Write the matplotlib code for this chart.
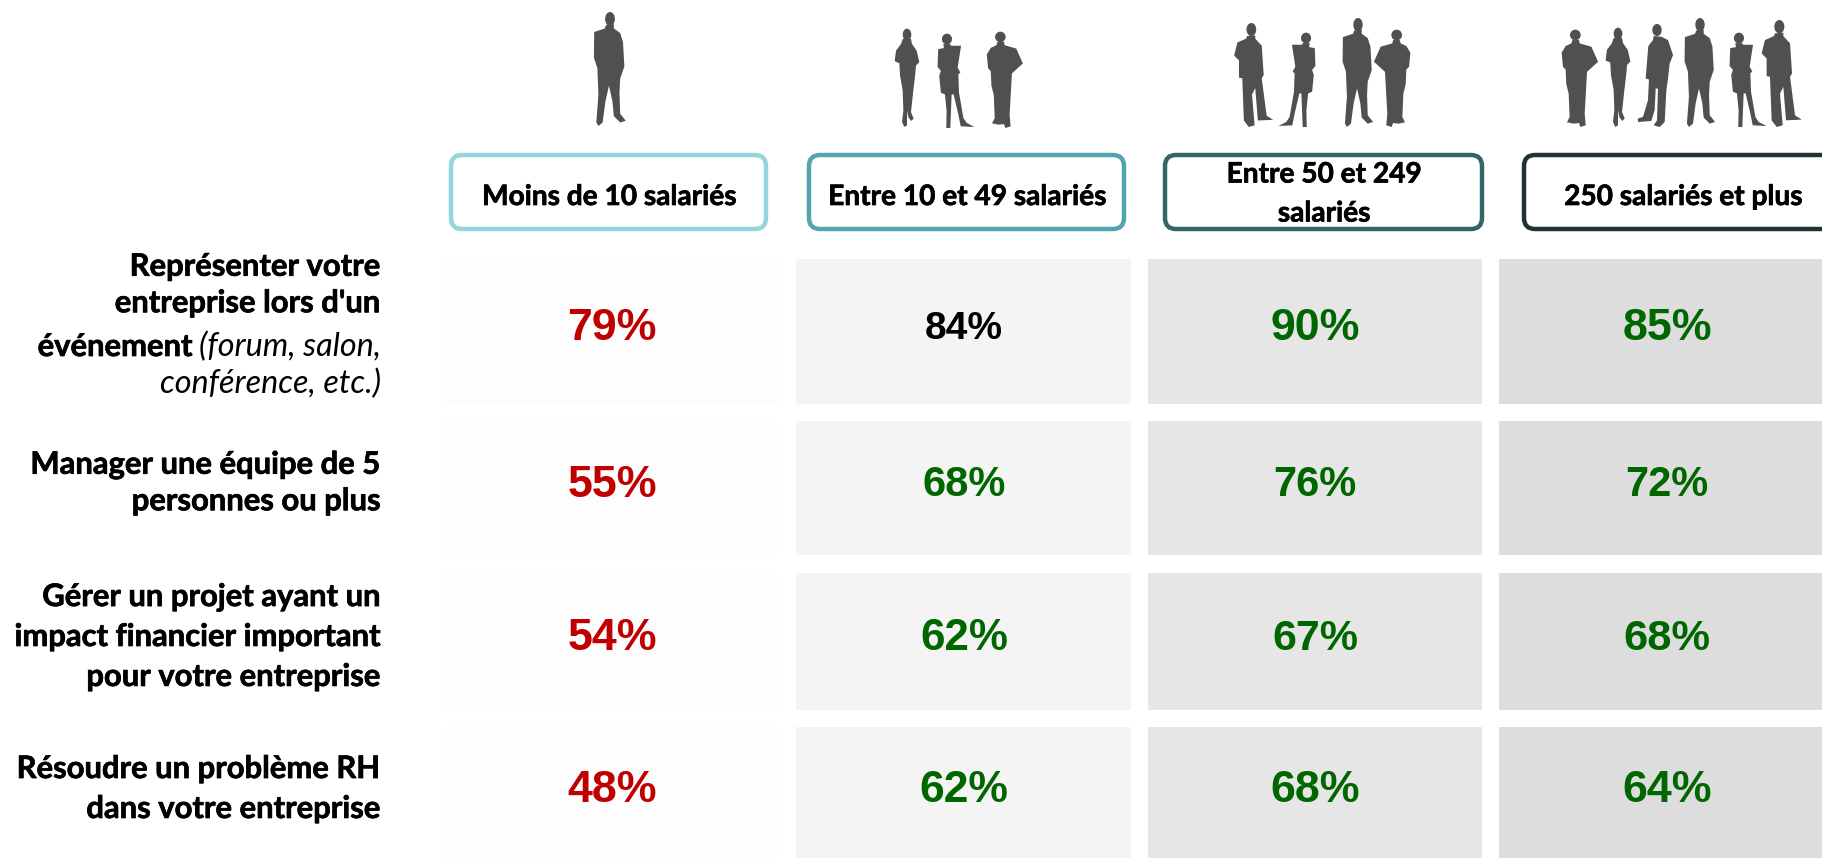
import matplotlib
matplotlib.use('Agg')
import matplotlib.pyplot as plt
import matplotlib.patheffects as pe
from matplotlib.patches import FancyBboxPatch, Polygon, Ellipse, Rectangle

# values
sizes = ['Moins de 10 salariés', 'Entre 10 et 49 salariés', 'Entre 50 et 249\nsalariés', '250 salariés et plus']
row_1 = [79, 84, 90, 85]
row_2 = [55, 68, 76, 72]
row_3 = [54, 62, 67, 68]
row_4 = [48, 62, 68, 64]
rows = [row_1, row_2, row_3, row_4]
RED, GREEN, BLACK = '#c00000', '#006600', '#000000'
row_colors = [[RED, BLACK, GREEN, GREEN], [RED, GREEN, GREEN, GREEN], [RED, GREEN, GREEN, GREEN], [RED, GREEN, GREEN, GREEN]]
pct_sizes = [[32.2, 28, 32.2, 32.2], [32.2, 30, 30, 30], [32.2, 31.6, 31, 31.2], [32.2, 32, 32.2, 32.2]]
labels = ['Représenter votre\nentreprise lors d\'un', 'Manager une équipe de 5\npersonnes ou plus',
          'Gérer un projet ayant un\nimpact financier important\npour votre entreprise',
          'Résoudre un problème RH\ndans votre entreprise']

# layout, in pixels of the 1822x858 picture
cell_x = [(442, 778), (796, 1131), (1148, 1482), (1499, 1822)]
cell_y = [(259, 404), (421, 555), (573, 710), (727, 858)]
cell_colors = ['#fdfdfd', '#f4f4f4', '#e6e6e6', '#dddddd']
pct_x = [612, 964, 1315, 1667]
pct_y = [329, 485.5, 638.5, 790.5]
box_x = [(451, 766), (809, 1124), (1165, 1482), (1524, 1840)]
box_colors = ['#93d6dc', '#53a5ad', '#356366', '#1d3335']
box_text_x = [609, 967, 1324, 1683]

fig = plt.figure(figsize=(18.22, 8.58), dpi=100)
ax = fig.add_axes([0, 0, 1, 1])
ax.set_xlim(0, 1822)
ax.set_ylim(858, 0)
ax.axis('off')


def shape(head, outline, cx, top, bottom):
    # normalised so the figure is 100 units tall
    s = 100 / (bottom - top)
    hx, hy, hw, hh = head
    return dict(head=((hx - cx) * s, (hy - top) * s, hw * s, hh * s),
                body=[((x - cx) * s, (y - top) * s) for x, y in outline])


wide = shape((77, 75, 16, 16), [(68, 90), (65, 100), (48, 108), (36, 128), (40, 170), (48, 178), (50, 222), (57, 250), (60, 320), (52, 336),
                                (72, 340), (88, 338), (92, 350), (108, 345), (105, 310), (110, 220), (112, 185), (145, 155), (125, 110),
                                (90, 100), (88, 90)], 85, 60, 350)
hair = shape((203, 72, 13, 18), [(190, 85), (185, 100), (170, 120), (166, 152), (180, 158), (182, 195), (190, 240), (192, 300), (188, 335),
                                 (195, 350), (203, 345), (203, 300), (207, 320), (215, 332), (223, 325), (215, 305), (222, 240), (228, 190),
                                 (230, 165), (240, 155), (232, 120), (218, 100), (215, 85)], 203, 55, 350)
casual = shape((322, 60, 14, 18), [(312, 78), (310, 90), (296, 108), (288, 205), (298, 208), (295, 270), (280, 320), (264, 325), (266, 335),
                                   (305, 332), (315, 300), (318, 235), (325, 235), (322, 330), (312, 345), (330, 350), (345, 335), (350, 240),
                                   (355, 205), (360, 160), (370, 135), (355, 90), (335, 80)], 322, 42, 350)
man = shape((451, 45, 14, 20), [(440, 62), (436, 72), (406, 82), (405, 155), (415, 185), (418, 260), (412, 340), (418, 350), (430, 340),
                                (438, 280), (448, 235), (458, 280), (462, 322), (480, 340), (496, 335), (480, 315), (478, 255), (480, 215),
                                (492, 180), (488, 110), (480, 85), (462, 72), (462, 60)], 451, 25, 350)
skirt = shape((566, 85, 15, 16), [(555, 100), (557, 112), (540, 115), (538, 168), (548, 180), (543, 195), (548, 245), (560, 250), (565, 300),
                                  (564, 350), (576, 350), (578, 300), (580, 250), (586, 250), (600, 310), (607, 345), (648, 347), (625, 335),
                                  (615, 320), (602, 245), (600, 190), (606, 185), (598, 170), (608, 105), (578, 105), (576, 100)], 590, 70, 350)
big = shape((688, 50, 15, 20), [(675, 70), (672, 78), (645, 90), (635, 130), (650, 145), (650, 198), (660, 200), (665, 330), (680, 350),
                                (698, 345), (690, 250), (700, 230), (708, 330), (755, 328), (735, 315), (720, 200), (726, 190), (720, 100),
                                (700, 78), (700, 68)], 690, 30, 350)

# shape, centre x, top y, bottom y, mirrored
people = [(man, 610, 12, 126, 1),
          (hair, 907, 29, 127, 1), (skirt, 955, 34, 128, 1), (wide, 1003, 32, 128, 1),
          (big, 1252, 23, 127, 1), (skirt, 1298, 33, 127, -1), (man, 1358, 18, 127, 1), (wide, 1394, 30, 127, -1),
          (wide, 1578, 30, 127, 1), (hair, 1618, 28, 127, 1), (casual, 1657, 24, 127, 1), (man, 1700, 18, 127, 1),
          (skirt, 1747, 33, 127, 1), (big, 1780, 20, 127, 1)]

for p, cx, top, bottom, flip in people:
    s = (bottom - top) / 100
    hx, hy, hw, hh = p['head']
    ax.add_patch(Ellipse((cx + flip * hx * s, top + hy * s), 2 * hw * s, 2 * hh * s, fc='#505050', ec='none'))
    ax.add_patch(Polygon([(cx + flip * x * s, top + y * s) for x, y in p['body']], closed=True, fc='#505050', ec='none'))

thick = [pe.withStroke(linewidth=0.5, foreground='black')]

# header boxes
for (x0, x1), col, name, tx in zip(box_x, box_colors, sizes, box_text_x):
    ax.add_patch(FancyBboxPatch((x0 + 10, 165), x1 - x0 - 20, 54, boxstyle='round,pad=10,rounding_size=11',
                                fc='white', ec=col, lw=3.2))
    ty = 194 if '\n' in name else 197
    ax.text(tx, ty, name, ha='center', va='center', fontsize=20.2, family='Lato', fontweight='bold', linespacing=1.62, path_effects=thick)

# cells and percentages
for r, (y0, y1) in enumerate(cell_y):
    for c, (x0, x1) in enumerate(cell_x):
        ax.add_patch(Rectangle((x0, y0), x1 - x0, y1 - y0, fc=cell_colors[c], ec='none'))
        ax.text(pct_x[c], pct_y[r], f'{rows[r][c]}%', ha='center', va='center',
                fontsize=pct_sizes[r][c], family='Liberation Sans', fontweight='bold', color=row_colors[r][c])

# row labels
label_right = 381
lab = dict(ha='right', va='center', fontsize=22.3, family='Lato')
ital = dict(ha='right', va='center', fontsize=23.3, family='Lato', fontstyle='italic')
ax.text(label_right, 285, labels[0], fontweight='bold', linespacing=1.37, path_effects=thick, **lab)
t = ax.text(label_right, 347, '(forum, salon,', **ital)
fig.canvas.draw()
left = t.get_window_extent().x0
ax.text(left - 6, 347, 'événement', fontweight='bold', path_effects=thick, **lab)
ax.text(label_right, 384, 'conférence, etc.)', **ital)
ax.text(label_right, 483, labels[1], fontweight='bold', linespacing=1.37, path_effects=thick, **lab)
ax.text(label_right, 637, labels[2], fontweight='bold', linespacing=1.52, path_effects=thick, **lab)
ax.text(label_right, 789, labels[3], fontweight='bold', linespacing=1.52, path_effects=thick, **lab)

fig.savefig('out.png', dpi=100)
